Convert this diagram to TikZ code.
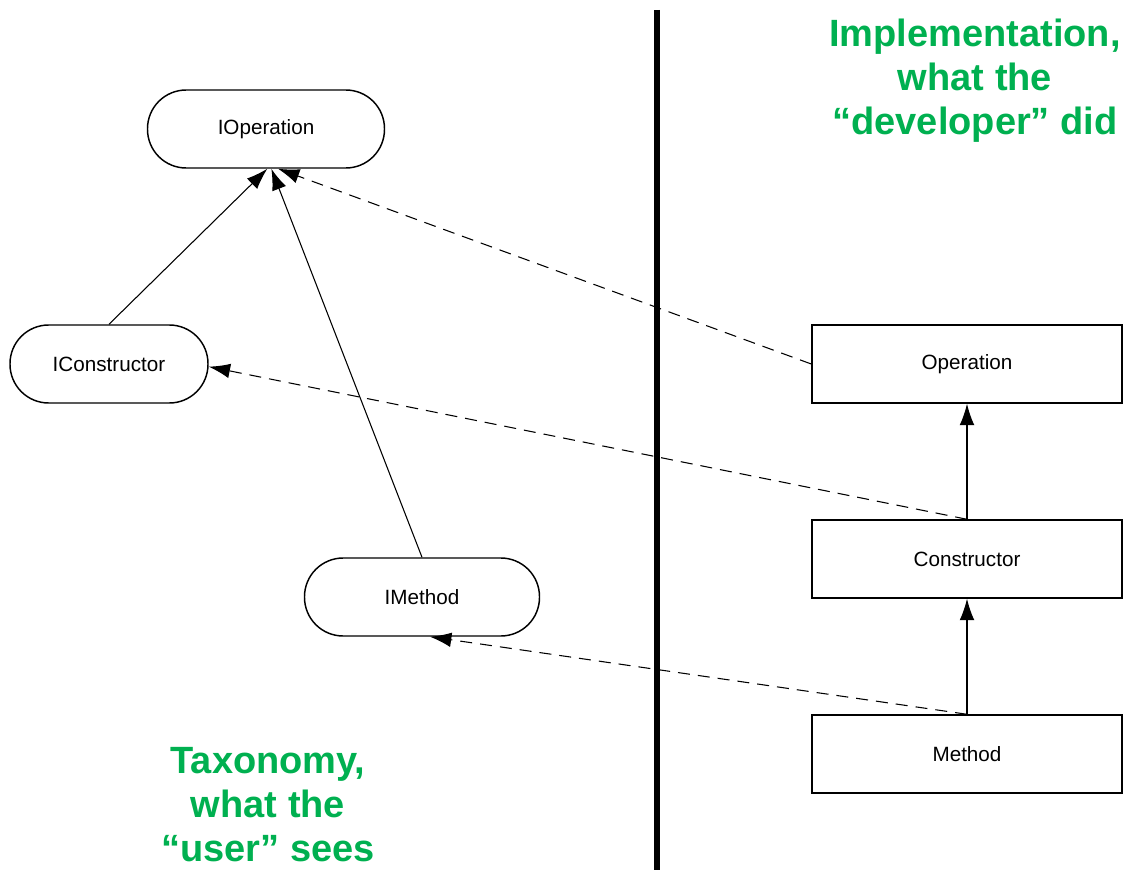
\documentclass[tikz,border=0pt]{standalone}
\usepackage{fontspec}
\setmainfont{Liberation Sans}
\usetikzlibrary{arrows.meta}
\definecolor{notegreen}{RGB}{0,176,80}
\tikzset{
  iface/.style={draw=black, line width=1.1pt, rounded corners=29pt, minimum height=58.5pt, font=\fontsize{15.5}{19}\selectfont},
  impl/.style={draw=black, line width=1.1pt, minimum width=232.5pt, minimum height=58.5pt, font=\fontsize{15.5}{19}\selectfont},
  isa/.style={line width=0.8pt, -{Latex[length=16pt,width=11pt]}},
  realizes/.style={isa, dash pattern=on 9pt off 6pt},
  note/.style={text=notegreen, align=center, font=\bfseries\fontsize{28.5}{33}\selectfont}
}
\begin{document}
\begin{tikzpicture}[x=0.75pt,y=-0.75pt]
\useasboundingbox (0,0) rectangle (1124,870);
% the dividing line
\draw [line width=4.5pt] (657,10) -- (657,872);
% taxonomy side
\node [iface, minimum width=177.75pt] (iop) at (266,129) {IOperation};
\node [iface, minimum width=148.5pt] (ictor) at (109,364) {IConstructor};
\node [iface, minimum width=176.25pt] (imeth) at (422,597) {IMethod};
% implementation side
\node [impl] (op) at (967,364) {Operation};
\node [impl] (ctor) at (967,559) {Constructor};
\node [impl] (meth) at (967,754) {Method};
% labels
\node [note] (impllabel) at (975,81) {Implementation,\\what the\\``developer'' did};
\node [note] (taxlabel) at (268,805) {Taxonomy,\\what the\\``user'' sees};
% inheritance
\draw [isa] (ictor.north) -- ([xshift=1pt]iop.south);
\draw [isa] (imeth.north) -- ([xshift=4pt]iop.south);
\draw [isa] (ctor.north) -- (op.south);
\draw [isa] (meth.north) -- (ctor.south);
% implementation
\draw [realizes] (op.west) -- ([xshift=9pt]iop.south);
\draw [realizes] (ctor.north) -- ([yshift=-2pt]ictor.east);
\draw [realizes] (meth.north) -- ([xshift=6pt]imeth.south);
\end{tikzpicture}
\end{document}
